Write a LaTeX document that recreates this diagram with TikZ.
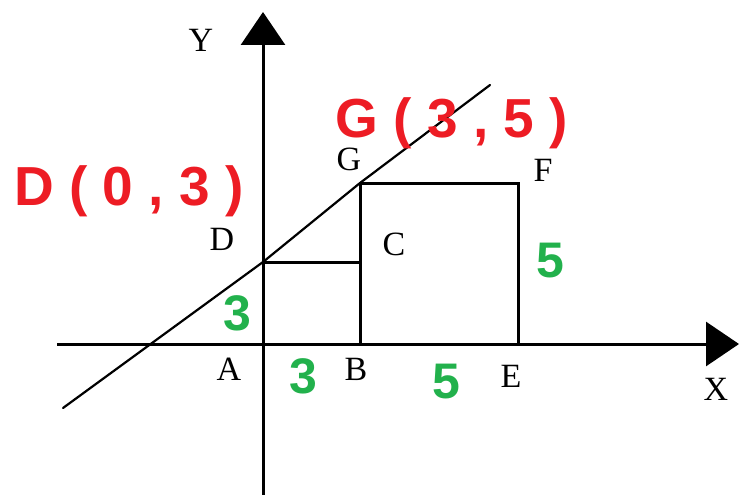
\documentclass[tikz,border=0pt]{standalone}
\usepackage{fontspec}
\setmainfont{Liberation Serif}
\newfontfamily\boldsans{Liberation Sans}
\usepackage{tikz}
\usetikzlibrary{arrows.meta, positioning}
\definecolor{paintred}{RGB}{237,28,36}
\definecolor{paintgreen}{RGB}{34,177,76}

\begin{document}
\begin{tikzpicture}[
  x=1pt, y=-1pt,
  axis/.style={line width=3pt, -{Triangle[length=33pt, width=44pt]}},
  side/.style={line width=3pt},
  slant/.style={line width=2.2pt, line cap=round},
  ptlabel/.style={anchor=base, inner sep=0pt, font=\fontsize{34}{36}\selectfont},
  coordlabel/.style={anchor=base, inner sep=0pt, text=paintred,
    font=\boldsans\bfseries\fontsize{55}{60}\selectfont},
  lenlabel/.style={anchor=base, inner sep=0pt, text=paintgreen,
    font=\boldsans\bfseries\fontsize{50}{54}\selectfont},
]
\useasboundingbox (0,0) rectangle (740,495);

% Points
\coordinate (A) at (263,344);
\coordinate (B) at (360,344);
\coordinate (E) at (518,344);
\coordinate (D) at (263,262);
\coordinate (c) at (360,262);
\coordinate (G) at (360,183);
\coordinate (F) at (518,183);
\coordinate (xs) at (57,344);
\coordinate (xe) at (739,344);
\coordinate (ys) at (263,495);
\coordinate (ye) at (263,12);
\coordinate (ls) at (63,408);
\coordinate (le) at (490,85);

% Axes
\draw[axis] (xs) -- (xe);
\draw[axis] (ys) -- (ye);

% Squares
\draw[side] (D) -- (c) -- (B);
\draw[side] (G) -- (F) -- (E);
\draw[side] (G) -- (B);

% Line through D and G
\draw[slant] (ls) -- (D) -- (G) -- (le);

% Labels
\node[ptlabel] (ly) at (201,52) {Y};
\node[ptlabel] (lx) at (716,400) {X};
\node[ptlabel] (la) at (229,380) {A};
\node[ptlabel] (lb) at (356,380) {B};
\node[ptlabel] (le2) at (511,387) {E};
\node[ptlabel] (ld) at (222,250) {D};
\node[ptlabel] (lg) at (349,170) {G};
\node[ptlabel] (lf) at (543,182) {F};
\node[ptlabel] (lc) at (394,255) {C};

\node[coordlabel] (dcoord) at (129,205) {D ( 0 , 3 )};
\node[coordlabel] (gcoord) at (452,138) {G ( 3 , 5 )};

\node[lenlabel] (ad) at (237,330) {3};
\node[lenlabel] (ab) at (303,393) {3};
\node[lenlabel] (be) at (446,398) {5};
\node[lenlabel] (ef) at (550,277) {5};
\end{tikzpicture}
\end{document}
